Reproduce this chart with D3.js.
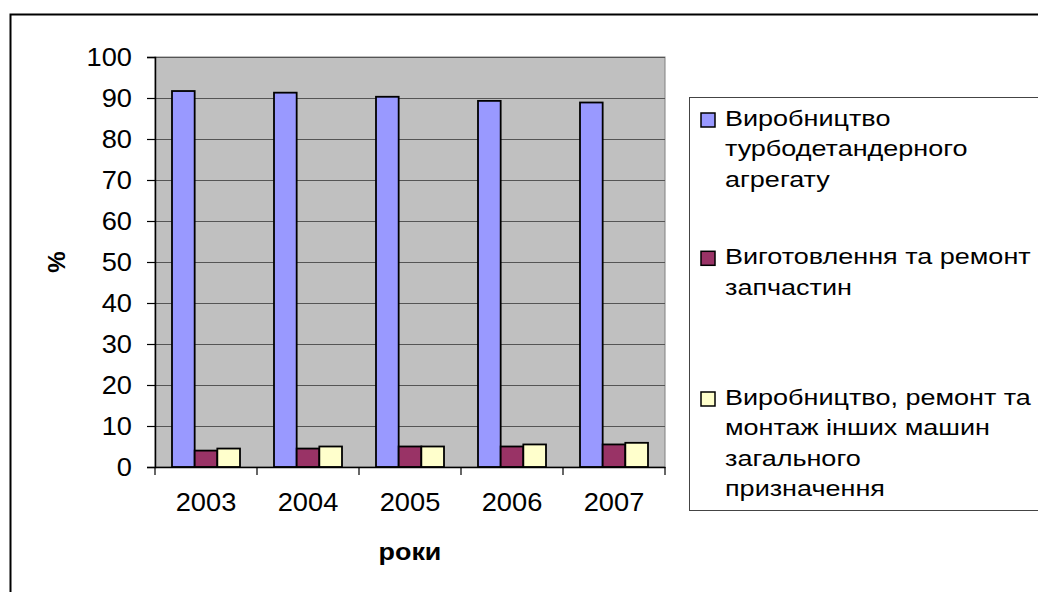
<!DOCTYPE html>
<html>
<head>
<meta charset="utf-8">
<script src="https://cdn.jsdelivr.net/npm/d3@7"></script>
<style>
  html, body { margin: 0; padding: 0; background: #fff; }
  svg { display: block; font-family: Arial, "Liberation Sans", sans-serif; }
</style>
</head>
<body>
<svg id="chart" width="1038" height="592"></svg>
<script>
// Years on the category axis
const years = ["2003", "2004", "2005", "2006", "2007"];

// Share of each activity in total output, %
const turboExpander = [91.7, 91.3, 90.3, 89.3, 88.9];
const spareParts    = [4.0, 4.5, 5.0, 5.0, 5.5];
const otherMachines = [4.5, 5.0, 5.0, 5.5, 5.9];

// Series names, wrapped as in the legend
const seriesNames = [
  ["Виробництво", "турбодетандерного", "агрегату"],
  ["Виготовлення та ремонт", "запчастин"],
  ["Виробництво, ремонт та", "монтаж інших машин", "загального", "призначення"]
];
const seriesColors = ["#9999ff", "#993366", "#ffffcc"];

const yTicks = [0, 10, 20, 30, 40, 50, 60, 70, 80, 90, 100];
const yTitle = "%";
const xTitle = "роки";

const series = [turboExpander, spareParts, otherMachines];

// Text is drawn slightly widened, like the stretched chart fonts
const axisStretch = 1.09;
const legendStretch = 1.2;

const svg = d3.select("#chart");

// Chart frame (extends past the right and bottom edges)
svg.append("rect")
  .attr("x", 10.5).attr("y", 14.5)
  .attr("width", 1100).attr("height", 700)
  .attr("fill", "#fff").attr("stroke", "#000").attr("stroke-width", 2);

// Plot area
const plot = { left: 155, right: 665, top: 57, bottom: 467 };

const x = d3.scaleBand()
  .domain(years)
  .range([plot.left, plot.right]);

// Three bars per year with gaps of 1.5 bar widths between groups
const barW = x.bandwidth() / 4.5;
const xs = d3.scaleBand()
  .domain(d3.range(series.length))
  .range([barW * 0.75, barW * 3.75]);

const y = d3.scaleLinear()
  .domain([0, 100])
  .range([plot.bottom, plot.top]);

svg.append("rect")
  .attr("x", plot.left).attr("y", plot.top)
  .attr("width", plot.right - plot.left).attr("height", plot.bottom - plot.top)
  .attr("fill", "#c0c0c0").attr("stroke", "#808080").attr("stroke-width", 1);

// Horizontal gridlines
svg.append("g")
  .selectAll("line")
  .data(yTicks.filter(d => d > 0))
  .join("line")
  .attr("x1", plot.left).attr("x2", plot.right)
  .attr("y1", d => Math.round(y(d)) + 0.5).attr("y2", d => Math.round(y(d)) + 0.5)
  .attr("stroke", "#555").attr("stroke-width", 1.2);

// Bars
const groups = svg.append("g")
  .selectAll("g")
  .data(series)
  .join("g")
  .attr("fill", (d, i) => seriesColors[i]);

groups.selectAll("rect")
  .data((vals, si) => vals.map((v, yi) => ({ v, yi, si })))
  .join("rect")
  .attr("x", d => x(years[d.yi]) + xs(d.si))
  .attr("y", d => y(d.v))
  .attr("width", xs.bandwidth())
  .attr("height", d => y(0) - y(d.v))
  .attr("stroke", "#000").attr("stroke-width", 1.8);

// Y axis
const yAxis = svg.append("g")
  .attr("transform", `translate(${plot.left},0)`)
  .call(d3.axisLeft(y).tickValues(yTicks).tickSize(8).tickPadding(15));
yAxis.select(".domain").attr("stroke", "#000").attr("stroke-width", 1.5);
yAxis.selectAll(".tick line").attr("stroke", "#000").attr("stroke-width", 1.2);
yAxis.selectAll(".tick text")
  .attr("font-family", "Arial, 'Liberation Sans', sans-serif")
  .attr("font-size", 25).attr("fill", "#000")
  .attr("x", -23 / axisStretch)
  .attr("transform", `scale(${axisStretch},1)`);

// X axis with tick marks on the group boundaries
const xAxis = svg.append("g")
  .attr("transform", `translate(0,${plot.bottom})`)
  .call(d3.axisBottom(x).tickSize(0).tickPadding(26));
xAxis.select(".domain").attr("stroke", "#000").attr("stroke-width", 1.5);
xAxis.selectAll(".tick text")
  .attr("font-family", "Arial, 'Liberation Sans', sans-serif")
  .attr("font-size", 25).attr("fill", "#000")
  .attr("transform", `scale(${axisStretch},1)`);
xAxis.append("g")
  .selectAll("line")
  .data(years.map(d => x(d)).concat([plot.right]))
  .join("line")
  .attr("x1", d => d).attr("x2", d => d)
  .attr("y1", 0).attr("y2", 8)
  .attr("stroke", "#000").attr("stroke-width", 1.2);

// Axis titles
svg.append("g")
  .attr("transform", `translate(${(plot.left + plot.right) / 2},560) scale(1.12,1)`)
  .append("text")
  .attr("text-anchor", "middle")
  .attr("font-size", 24).attr("font-weight", "bold")
  .text(xTitle);

svg.append("text")
  .attr("transform", `translate(65,${(plot.top + plot.bottom) / 2}) rotate(-90)`)
  .attr("text-anchor", "middle")
  .attr("font-size", 24).attr("font-weight", "bold")
  .text(yTitle);

// Legend
const legend = { left: 689, top: 97.5, bottom: 510.5 };
svg.append("rect")
  .attr("x", legend.left + 0.5).attr("y", legend.top)
  .attr("width", 500).attr("height", legend.bottom - legend.top)
  .attr("fill", "#fff").attr("stroke", "#444").attr("stroke-width", 1);

const lineH = 30.5;
const entryBaselines = [126, 264.3, 405];
const lg = svg.append("g").selectAll("g")
  .data(seriesNames)
  .join("g")
  .attr("transform", (d, i) => `translate(0,${entryBaselines[i]})`);

lg.append("rect")
  .attr("x", 701).attr("y", -13)
  .attr("width", 14).attr("height", 14)
  .attr("fill", (d, i) => seriesColors[i])
  .attr("stroke", "#000").attr("stroke-width", 1.5);

lg.append("g")
  .attr("transform", `translate(725,0) scale(${legendStretch},1)`)
  .append("text")
  .attr("font-size", 22.5)
  .attr("fill", "#000")
  .selectAll("tspan")
  .data(d => d)
  .join("tspan")
  .attr("x", 0)
  .attr("y", (d, i) => i * lineH)
  .text(d => d);
</script>
</body>
</html>
